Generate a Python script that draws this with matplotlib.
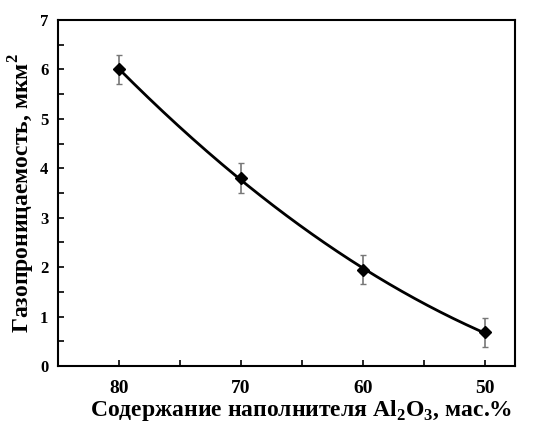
import matplotlib
matplotlib.use("Agg")
import matplotlib.pyplot as plt
import numpy as np
from matplotlib.ticker import MultipleLocator

plt.rcParams['font.family'] = ['Liberation Serif', 'DejaVu Serif']
plt.rcParams['font.weight'] = 'bold'
plt.rcParams['mathtext.fontset'] = 'custom'
plt.rcParams['mathtext.rm'] = 'Liberation Serif:bold'
plt.rcParams['mathtext.bf'] = 'Liberation Serif:bold'

filler = [80, 70, 60, 50]
perm = [6.0, 3.8, 1.95, 0.68]
err = [0.3, 0.3, 0.3, 0.3]

fig = plt.figure(figsize=(5.37, 4.23), dpi=100)
ax = fig.add_axes([58/537, 57/423, 457/537, 346/423])

coef = np.polyfit(filler, perm, 2)
xs = np.linspace(80, 50, 200)
ax.plot(xs, np.polyval(coef, xs), color='black', lw=2)
ax.errorbar(filler, perm, yerr=err, fmt='none', ecolor='#777777', elinewidth=1.2,
            capsize=2.5, capthick=1.0)
ax.plot(filler, perm, 'D', color='black', ms=6.5)

ax.set_xlim(85, 47.5)
ax.set_ylim(0, 7)
ax.xaxis.set_major_locator(MultipleLocator(10))
ax.xaxis.set_minor_locator(MultipleLocator(5))
ax.yaxis.set_major_locator(MultipleLocator(1))
ax.yaxis.set_minor_locator(MultipleLocator(0.5))
ax.tick_params(which='both', direction='in', length=4, width=1.2)
ax.tick_params(axis='x', labelsize=14, pad=10)
ax.tick_params(axis='y', labelsize=12, pad=7)
for s in ax.spines.values():
    s.set_linewidth(1.5)

ax.set_xlabel('Содержание наполнителя Al$_2$O$_3$, мас.%', fontsize=17, fontweight='bold', labelpad=1)
ax.xaxis.label.set_x(0.532)
ax.set_ylabel('Газопроницаемость, мкм$^2$', fontsize=17, fontweight='bold', labelpad=2)

fig.savefig('out.png', dpi=100)
